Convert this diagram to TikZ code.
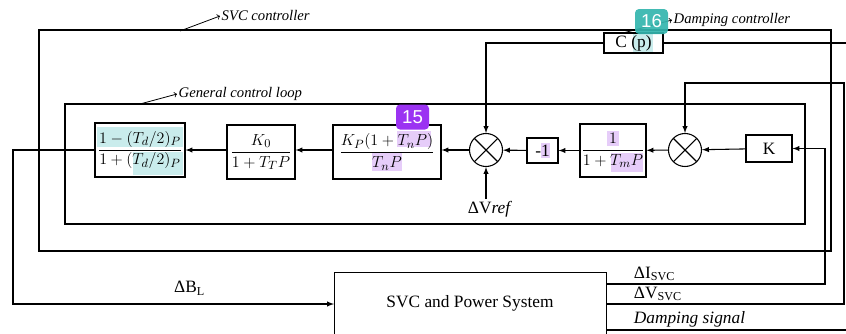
\documentclass[tikz,border=0pt]{standalone}
\usepackage{amsmath}
\usepackage{fontspec}
\setmainfont{Liberation Serif}
\newfontfamily\badgefont{Liberation Sans}
\usetikzlibrary{positioning}

\definecolor{badgepurple}{HTML}{9B33F2}
\definecolor{badgeteal}{HTML}{33B5AE}
\definecolor{hlcyan}{HTML}{C9ECEC}
\definecolor{hlpurple}{HTML}{E6CDF9}

\begin{document}
\begin{tikzpicture}[
    x=0.75pt, y=-0.75pt,
    line width=0.8pt,
    every node/.style={font=\fontsize{13}{15}\selectfont},
    block/.style={draw, rectangle, inner sep=0pt, align=center},
    sumjn/.style={circle, draw, minimum size=24.75pt, inner sep=0pt,
      path picture={
        \draw (path picture bounding box.north east) -- (path picture bounding box.south west);
        \draw (path picture bounding box.north west) -- (path picture bounding box.south east);}},
    arrow/.style={-latex},
    note/.style={font=\fontsize{11}{13}\selectfont\itshape, anchor=west, inner sep=1pt},
    badge/.style={rounded corners=3pt, minimum width=24.75pt, minimum height=18.75pt, inner sep=0pt,
      text=white, font=\badgefont\fontsize{14}{16}\selectfont}
  ]
  \useasboundingbox (0,0) rectangle (846,333);
  \clip (0,0) rectangle (846,333);

  % highlights
  \fill[hlcyan] (97,127) rectangle (183,147);
  \fill[hlcyan] (133,152) rectangle (183,175);
  \fill[hlpurple] (397,131) rectangle (431,147);
  \fill[hlpurple] (372,153) rectangle (402,171);
  \fill[hlpurple] (607,131) rectangle (619,146);
  \fill[hlpurple] (611,153) rectangle (643,172);
  \fill[hlpurple] (541,143) rectangle (550,158);
  \fill[hlcyan] (633,33) rectangle (653,52);

  % outer frames
  \draw (39,30) rectangle (831,251);
  \draw (65,104) rectangle (805,224);
  \draw[->, line width=0.6pt] (180,31) -- (220,16) node[note] {SVC controller};
  \draw[->, line width=0.6pt] (140,104) -- (177,94) node[note] {General control loop};

  % forward path
  \node[block, minimum width=67.5pt, minimum height=40.5pt] (g1) at (140,150) {$\dfrac{1-(T_d/2)_P}{1+(T_d/2)_P}$};
  \node[block, minimum width=51pt, minimum height=40.5pt] (g2) at (261,152) {$\dfrac{K_0}{1+T_T P}$};
  \node[block, minimum width=81pt, minimum height=40.5pt] (g3) at (387,152) {$\dfrac{K_P(1+T_n P)}{T_n P}$};
  \node[sumjn] (sum1) at (486,150) {};
  \node[block, minimum width=23.25pt, minimum height=18.75pt] (neg) at (542.5,150.5) {-1};
  \node[block, minimum width=49.5pt, minimum height=39.75pt] (gm) at (613,150.5) {$\dfrac{1}{1+T_m P}$};
  \node[sumjn] (sum2) at (685,150) {};
  \node[block, minimum width=34.5pt, minimum height=20.25pt] (kk) at (769,148.5) {K};
  \node[block, minimum width=44.25pt, minimum height=15pt] (cp) at (633.5,43) {C (p)};
  \draw[->, line width=0.6pt] (623,33) -- (672,20) node[note] {Damping controller};

  \node[inner sep=1pt] (vref) at (490,209) {ΔV\textit{ref}};
  \node[block, anchor=north west, minimum width=204pt, minimum height=54pt] (svc) at (334,272) {};
  \node at (470,303) {SVC and Power System};

  \draw[arrow] (kk) -- (sum2);
  \draw[arrow] (sum2) -- (gm);
  \draw[arrow] (gm) -- (neg);
  \draw[arrow] (neg) -- (sum1);
  \draw[arrow] (sum1) -- (g3.east |- sum1);
  \draw[arrow] (g3.west |- sum1) -- (g2.east |- sum1);
  \draw[arrow] (g2.west |- sum1) -- (g1);
  \draw[arrow] (vref.north -| sum1) -- (sum1.south);

  % feedback and plant connections
  \coordinate (bl) at (13,304);
  \coordinate (iout) at (606,284);
  \coordinate (iturn) at (825,284);
  \coordinate (vout) at (606,304);
  \coordinate (vturn) at (844,304);
  \coordinate (vtop) at (844,83);
  \coordinate (dout) at (606,330);
  \coordinate (dend) at (846,330);
  \coordinate (cend) at (846,43);

  \draw[arrow] (g1) -| (bl) -- (bl -| svc.west) node[pos=0.55, above=3pt] {ΔB\textsubscript{L}};
  \draw[arrow] (iout) -- (iturn) |- (kk);
  \draw[arrow] (vout) -- (vturn) -- (vtop) -| (sum2);
  \draw (dout) -- (dend);
  \draw (cp) -- (cend);
  \draw[arrow] (cp) -| (sum1);

  \node[anchor=south west, inner sep=1pt] at (632,283) {ΔI\textsubscript{SVC}};
  \node[anchor=south west, inner sep=1pt] at (632,303) {ΔV\textsubscript{SVC}};
  \node[anchor=south west, inner sep=1pt] at (632,329) {\textit{Damping signal}};

  % badges
  \node[badge, fill=badgepurple] (b15) at (412.5,117) {15};
  \node[badge, fill=badgeteal, opacity=0.92, text opacity=1] (b16) at (651.5,21.5) {16};
\end{tikzpicture}
\end{document}
